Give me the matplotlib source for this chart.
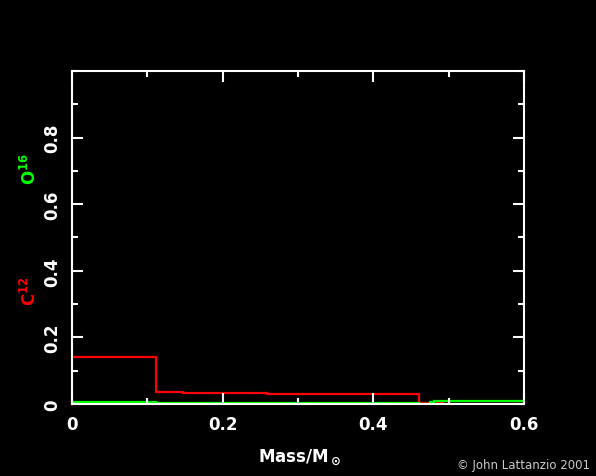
import matplotlib
matplotlib.use("Agg")
import matplotlib.pyplot as plt
from matplotlib.ticker import MultipleLocator

# Data (step profiles)
c12_edges = [0.0, 0.112, 0.147, 0.259, 0.46, 0.47, 0.493, 0.6]
c12_vals = [0.14, 0.037, 0.033, 0.029, 0.003, 0.002, 0.0]
o16_edges = [0.0, 0.112, 0.259, 0.46, 0.475, 0.48, 0.6]
o16_vals = [0.007, 0.004, 0.003, 0.001, 0.006, 0.009]
xticks = [0, 0.2, 0.4, 0.6]
xticklabels = ["0", "0.2", "0.4", "0.6"]
yticks = [0, 0.2, 0.4, 0.6, 0.8]
yticklabels = ["0", "0.2", "0.4", "0.6", "0.8"]

plt.rcParams['font.family'] = ['DejaVu Sans']
plt.rcParams['mathtext.default'] = 'bf'
fig = plt.figure(figsize=(5.96, 4.77), dpi=100, facecolor='black')
ax = fig.add_axes([72/596, 1-405/477, (524-72)/596, (405-72)/477])
ax.set_facecolor('black')

ax.stairs(c12_vals, c12_edges, color='#ff0000', linewidth=1.6, baseline=None)
ax.stairs(o16_vals, o16_edges, color='#00ff00', linewidth=1.6, baseline=None)

ax.set_xlim(0, 0.6)
ax.set_ylim(0, 1.0)
for s in ax.spines.values():
    s.set_color('white')
    s.set_linewidth(1.5)
ax.set_xticks(xticks)
ax.set_xticklabels(xticklabels)
ax.set_yticks(yticks)
ax.set_yticklabels(yticklabels, rotation=90, va='center')
ax.xaxis.set_minor_locator(MultipleLocator(0.1))
ax.yaxis.set_minor_locator(MultipleLocator(0.1))
ax.tick_params(which='both', direction='in', colors='white', top=True, right=True,
               labelsize=12, width=1.5)
ax.tick_params(which='major', length=8, pad=8)
ax.tick_params(which='minor', length=4)
for lab in ax.get_xticklabels() + ax.get_yticklabels():
    lab.set_fontweight('bold')
    lab.set_color('white')

fig.text(300/596, 1-458/477, r"Mass/M$_\odot$", color='white', fontsize=12,
         fontweight='bold', ha='center', va='center')
fig.text(30/596, 1-291/477, r"C$^{12}$", color='#ff0000', fontsize=12,
         fontweight='bold', rotation=90, ha='center', va='center')
fig.text(30/596, 1-169/477, r"O$^{16}$", color='#00ff00', fontsize=12,
         fontweight='bold', rotation=90, ha='center', va='center')
fig.text(590/596, 1-466/477, "© John Lattanzio 2001", color='#cccccc', fontsize=8.5,
         ha='right', va='center')

fig.savefig("out.png", dpi=100, facecolor='black')
